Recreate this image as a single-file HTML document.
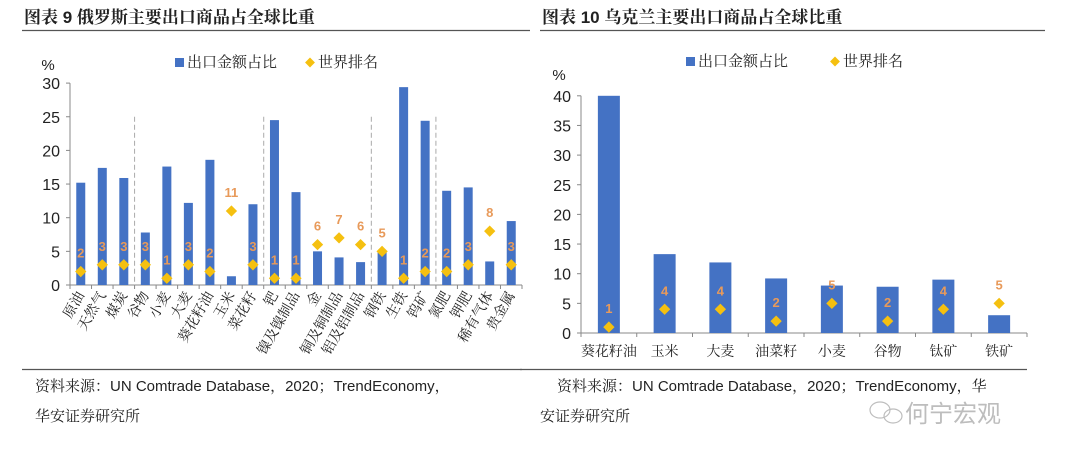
<!DOCTYPE html>
<html><head><meta charset="utf-8">
<style>
html,body{margin:0;padding:0;background:#fff;}
body{width:1080px;height:461px;overflow:hidden;font-family:"Liberation Sans","Noto Sans CJK SC",sans-serif;}
svg text{font-family:"Liberation Sans","Noto Serif CJK SC",serif;}
.cjk{font-family:"Noto Serif CJK SC",serif !important;}
</style></head>
<body>
<svg id="root" width="1080" height="461" viewBox="0 0 1080 461">
  <text x="24" y="23" font-size="17" font-weight="bold" fill="#222">图表 9 俄罗斯主要出口商品占全球比重</text>
  <text x="542" y="23" font-size="17" font-weight="bold" fill="#222">图表 10 乌克兰主要出口商品占全球比重</text>
  <line x1="22" y1="30.5" x2="530" y2="30.5" stroke="#555" stroke-width="1.2"/>
  <line x1="540" y1="30.5" x2="1045" y2="30.5" stroke="#555" stroke-width="1.2"/>
  <line x1="22" y1="369.5" x2="522" y2="369.5" stroke="#555" stroke-width="1.2"/>
  <line x1="520" y1="369.5" x2="1027" y2="369.5" stroke="#555" stroke-width="1.2"/>
  <text x="35" y="391" font-size="15" fill="#222">资料来源：UN Comtrade Database，2020；TrendEconomy，</text>
  <text x="35" y="421" font-size="15" fill="#222">华安证券研究所</text>
  <text x="557" y="391" font-size="15" fill="#222">资料来源：UN Comtrade Database，2020；TrendEconomy，华</text>
  <text x="540" y="421" font-size="15" fill="#222">安证券研究所</text>
  <g opacity="0.55">
    <ellipse cx="880" cy="410" rx="10" ry="8" fill="none" stroke="#888" stroke-width="1.2"/>
    <ellipse cx="893" cy="416" rx="9" ry="7" fill="none" stroke="#888" stroke-width="1.2"/>
    <text x="905" y="422" font-size="24" fill="#888" style="font-family:'Liberation Sans','Noto Sans CJK SC',sans-serif">何宁宏观</text>
  </g>
  <g id="left"></g>
  <g id="right"></g>
</svg>
<script>
const ruCategories=["原油","天然气","煤炭","谷物","小麦","大麦","葵花籽油","玉米","菜花籽","钯","镍及镍制品","金","铜及铜制品","铝及铝制品","钢铁","生铁","钨矿","氮肥","钾肥","稀有气体","贵金属"];
const ruShare=[15.2,17.4,15.9,7.8,17.6,12.2,18.6,1.3,12.0,24.5,13.8,5.0,4.1,3.4,5.0,29.4,24.4,14.0,14.5,3.5,9.5];
const ruRank=[2,3,3,3,1,3,2,11,3,1,1,6,7,6,5,1,2,2,3,8,3];
const ruSeparators=[3,9,14,17];
const ruTicks=[0,5,10,15,20,25,30];
const uaCategories=["葵花籽油","玉米","大麦","油菜籽","小麦","谷物","钛矿","铁矿"];
const uaShare=[40,13.3,11.9,9.2,8.0,7.8,9.0,3.0];
const uaRank=[1,4,4,2,5,2,4,5];
const uaTicks=[0,5,10,15,20,25,30,35,40];

const NS="http://www.w3.org/2000/svg";
function mk(parent,tag,attrs,txt){const e=document.createElementNS(NS,tag);for(const k in attrs)e.setAttribute(k,attrs[k]);if(txt!==undefined)e.textContent=txt;parent.appendChild(e);return e;}
const BLUE="#4472c4",GOLD="#f5c010",LBL="#e89a5a";

function drawChart(g,cfg){
  const {x0,x1,y0,ppu,cats,vals,ranks,ticks,barW,rotate,seps,legX,legY,pctY}=cfg;
  const band=(x1-x0)/cats.length;
  const xc=i=>x0+band*(i+0.5);
  const y=v=>y0-v*ppu;
  let e=mk(g,"line",{x1:x0,y1:y(ticks[ticks.length-1]),x2:x0,y2:y0,stroke:"#888"});
  
  
  e=mk(g,"line",{x1:x0,y1:y0,x2:x1,y2:y0,stroke:"#888"});
  
  
  ticks.forEach(t=>{
    mk(g,"line",{x1:x0-4,y1:y(t),x2:x0,y2:y(t),stroke:"#888"});
    e=mk(g,"text",{x:x0-10,y:y(t)+6,"font-size":16,"text-anchor":"end",fill:"#222"},t);
    
    
  });
  e=mk(g,"text",{x:x0-22,y:pctY,"font-size":15,"text-anchor":"middle",fill:"#222"},"%");
  
  
  for(let i=0;i<=cats.length;i++) mk(g,"line",{x1:x0+band*i,y1:y0,x2:x0+band*i,y2:y0+4,stroke:"#888"});
  (seps||[]).forEach(s=>{
    e=mk(g,"line",{x1:x0+band*s,y1:y(25),x2:x0+band*s,y2:y0,stroke:"#aaa","stroke-dasharray":"5,3"});
    
    
  });
  cats.forEach((c,i)=>{
    e=mk(g,"rect",{x:xc(i)-barW/2,y:y(vals[i]),width:barW,height:vals[i]*ppu,fill:BLUE});
    
    
    const ry=y(ranks[i]);
    e=mk(g,"rect",{x:xc(i)-4,y:ry-4,width:8,height:8,fill:GOLD,transform:`rotate(45 ${xc(i)} ${ry})`});
    
    
    e=mk(g,"text",{x:xc(i),y:ry-14,"font-size":13,"font-weight":"bold","text-anchor":"middle",fill:LBL},ranks[i]);
    
    
    if(rotate){
      const tx=xc(i)+4,ty=y0+10;
      e=mk(g,"text",{x:tx,y:ty,"font-size":14,"text-anchor":"end",fill:"#222",class:"cjk",transform:`rotate(-60 ${tx} ${ty})`},c);
    } else {
      e=mk(g,"text",{x:xc(i),y:y0+23,"font-size":14,"text-anchor":"middle",fill:"#222",class:"cjk"},c);
    }
    
    
  });
  e=mk(g,"rect",{x:legX,y:legY-9,width:9,height:9,fill:BLUE});
  
  
  e=mk(g,"text",{x:legX+12,y:legY,"font-size":15,fill:"#222",class:"cjk"},"出口金额占比");
  
  
  const dx=legX+cfg.legGap;
  e=mk(g,"rect",{x:dx-3.5,y:legY-8,width:7,height:7,fill:GOLD,transform:`rotate(45 ${dx} ${legY-4.5})`});
  
  
  e=mk(g,"text",{x:dx+8,y:legY,"font-size":15,fill:"#222",class:"cjk"},"世界排名");
  
  
}
drawChart(document.getElementById("left"),{x0:70,x1:522,y0:285,ppu:6.73,cats:ruCategories,vals:ruShare,ranks:ruRank,ticks:ruTicks,barW:9,rotate:true,seps:ruSeparators,legX:175,legY:67,legGap:135,pctY:70});
drawChart(document.getElementById("right"),{x0:581,x1:1027,y0:333,ppu:5.93,cats:uaCategories,vals:uaShare,ranks:uaRank,ticks:uaTicks,barW:22,rotate:false,seps:null,legX:686,legY:66,legGap:149,pctY:80});
</script>
</body></html>
